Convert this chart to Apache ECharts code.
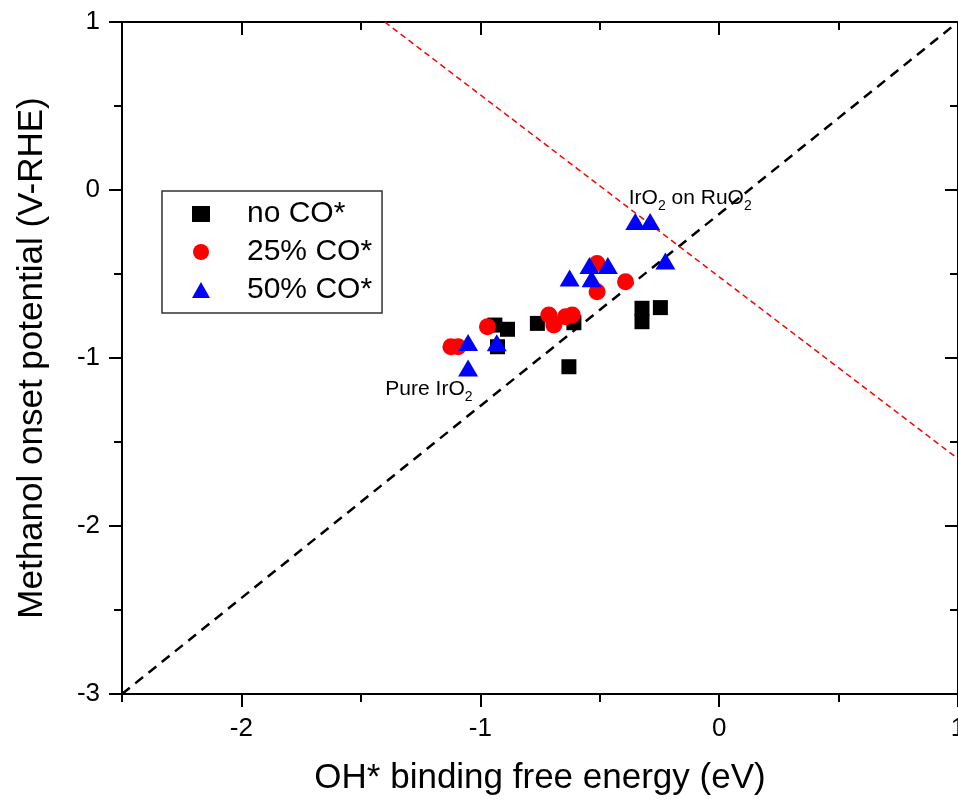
<!DOCTYPE html>
<html><head><meta charset="utf-8">
<script src="https://cdn.jsdelivr.net/npm/echarts@6/dist/echarts.min.js"></script>
<style>html,body{margin:0;padding:0;background:#fff}#c{width:958px;height:801px}</style>
</head><body><div id="c"></div>
<script>
const xMajorTicks = [-2, -1, 0, 1];
const xMinorTicks = [-2.5, -1.5, -0.5, 0.5];
const yMajorTicks = [1, 0, -1, -2, -3];
const yMinorTicks = [0.5, -0.5, -1.5, -2.5];

const noCO = [
  [-0.939, -0.804], [-0.886, -0.829], [-0.928, -0.933], [-0.761, -0.794],
  [-0.608, -0.790], [-0.629, -1.052], [-0.323, -0.784], [-0.323, -0.704],
  [-0.246, -0.700]
];
const co25 = [
  [-1.123, -0.933], [-1.093, -0.933], [-0.970, -0.814], [-0.713, -0.744],
  [-0.692, -0.804], [-0.643, -0.754], [-0.615, -0.744], [-0.511, -0.437],
  [-0.511, -0.605], [-0.392, -0.546]
];
const co50 = [
  [-1.051, -0.907], [-1.051, -1.060], [-0.931, -0.909], [-0.626, -0.524],
  [-0.543, -0.450], [-0.534, -0.528], [-0.466, -0.450], [-0.351, -0.187],
  [-0.289, -0.187], [-0.225, -0.423]
];
const diagLine = [[-2.5, -3], [1, 1]];
const limitLine = [[-1.4, 1], [1, -1.6]];
const annotations = [
  { value: [-0.121, -0.048], text: '{a|IrO}{s|2}{a| on RuO}{s|2}' },
  { value: [-1.215, -1.185], text: '{a|Pure IrO}{s|2}' }
];

const FONT = '"Liberation Sans", Arial, sans-serif';
const LINE = { color: '#000', width: 2 };

function makeAxis(pos, ticks, len, inside, labels, min, max, extra) {
  return Object.assign({
    type: 'value', position: pos, min: min, max: max,
    axisLine: { show: true, onZero: false, lineStyle: LINE },
    splitLine: { show: false },
    axisTick: { show: true, customValues: ticks, length: len, inside: inside, lineStyle: LINE },
    axisLabel: labels ? { show: true, customValues: ticks, fontSize: 26, color: '#000', fontFamily: FONT, margin: 22 } : { show: false }
  }, extra || {});
}

const chart = echarts.init(document.getElementById('c'));
chart.setOption({
  backgroundColor: '#fff',
  animation: false,
  grid: { left: 122, top: 22, right: 0, bottom: 107, containLabel: false, outerBoundsMode: 'none' },
  xAxis: [
    makeAxis('bottom', xMajorTicks, 13, false, true, -2.5, 1, {
      name: 'OH* binding free energy (eV)', nameLocation: 'middle', nameGap: 67,
      nameTextStyle: { fontSize: 35, color: '#000', fontFamily: FONT }
    }),
    makeAxis('bottom', xMinorTicks, 8, false, false, -2.5, 1),
    makeAxis('top', xMajorTicks, 13, true, false, -2.5, 1),
    makeAxis('top', xMinorTicks, 8, true, false, -2.5, 1)
  ],
  yAxis: [
    makeAxis('left', yMajorTicks, 13, false, true, -3, 1, {
      name: 'Methanol onset potential (V-RHE)', nameLocation: 'middle', nameGap: 72,
      nameTextStyle: { fontSize: 35, color: '#000', fontFamily: FONT }
    }),
    makeAxis('left', yMinorTicks, 8, false, false, -3, 1),
    makeAxis('right', yMajorTicks, 13, true, false, -3, 1),
    makeAxis('right', yMinorTicks, 8, true, false, -3, 1)
  ],
  legend: {
    orient: 'vertical', left: 162, top: 191,
    padding: [8, 10, 8, 30], itemGap: 8, itemWidth: 18, itemHeight: 16,
    borderColor: '#333', borderWidth: 1.5, selectedMode: false,
    data: ['no CO*', '25% CO*', '50% CO*'],
    itemStyle: { opacity: 1 },
    textStyle: { fontSize: 30, color: '#000', fontFamily: FONT, padding: [0, 0, 0, 32] }
  },
  series: [
    { type: 'line', data: diagLine, symbol: 'none', silent: true, z: 1,
      lineStyle: { color: '#000', width: 2.5, type: [10, 7] } },
    { type: 'line', data: limitLine, symbol: 'none', silent: true, z: 1,
      lineStyle: { color: '#f00', width: 1.5, type: [6, 4] } },
    { name: 'no CO*', type: 'scatter', data: noCO, symbol: 'rect', symbolSize: 15,
      itemStyle: { color: '#000', opacity: 1 }, z: 2 },
    { name: '25% CO*', type: 'scatter', data: co25, symbol: 'circle', symbolSize: 17,
      itemStyle: { color: '#f00', opacity: 1 }, z: 3 },
    { name: '50% CO*', type: 'scatter', data: co50, symbol: 'triangle', symbolSize: [20, 17],
      itemStyle: { color: '#00f', opacity: 1 }, z: 4 },
    { type: 'scatter', data: annotations, symbolSize: 0, silent: true, z: 5,
      itemStyle: { opacity: 1 },
      label: {
        show: true, position: 'inside', formatter: p => p.data.text, color: '#000', opacity: 1,
        rich: {
          a: { fontSize: 21, color: '#000', fontFamily: FONT, lineHeight: 30, verticalAlign: 'middle' },
          s: { fontSize: 14, color: '#000', fontFamily: FONT, lineHeight: 30, verticalAlign: 'bottom' }
        }
      } }
  ]
});
</script></body></html>
